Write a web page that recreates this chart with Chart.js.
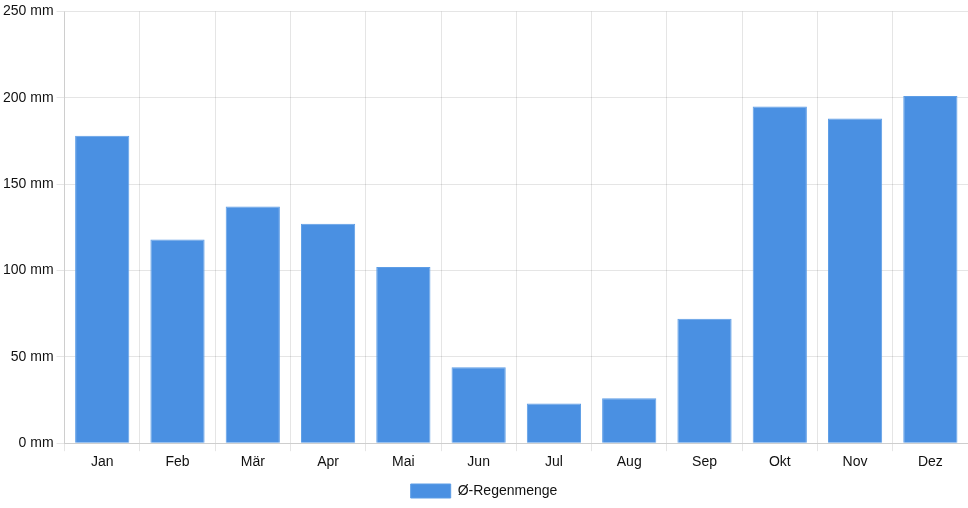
<!DOCTYPE html>
<html lang="de">
  <head>
    <meta charset="UTF-8" />
    <title>Regenmenge</title>
    <style>
      html, body { margin: 0; padding: 0; background: #fff; }
      .chartBox { width: 968px; height: 508px; }
    </style>
  </head>
  <body>
    <div class="chartBox">
      <canvas id="myChart"></canvas>
    </div>
    <script src="https://cdn.jsdelivr.net/npm/chart.js"></script>
    <script>
      const months = ["Jan", "Feb", "Mär", "Apr", "Mai", "Jun", "Jul", "Aug", "Sep", "Okt", "Nov", "Dez"];
      const rain = [178, 118, 137, 127, 102, 44, 23, 26, 72, 195, 188, 201];
      const seriesLabel = "Ø-Regenmenge";
      const unit = " mm";

      Chart.defaults.font.family = "'Liberation Sans', Arial, sans-serif";
      Chart.defaults.font.size = 14;
      Chart.defaults.color = "#111";

      const ctx = document.getElementById("myChart").getContext("2d");
      const myChart = new Chart(ctx, {
        type: "bar",
        data: {
          labels: months,
          datasets: [
            {
              label: seriesLabel,
              data: rain,
              backgroundColor: "#4a90e2",
              borderColor: "#5d9de6",
              borderWidth: 1,
            },
          ],
        },
        options: {
          responsive: true,
          maintainAspectRatio: false,
          animation: false,
          plugins: {
            legend: { position: "bottom" },
            tooltip: { enabled: false },
          },
          scales: {
            x: {
              grid: { color: "rgba(0,0,0,0.1)" },
            },
            y: {
              beginAtZero: true,
              max: 250,
              ticks: {
                stepSize: 50,
                callback: (v) => v + unit,
              },
              grid: { color: "rgba(0,0,0,0.1)" },
            },
          },
        },
      });
    </script>
  </body>
</html>
